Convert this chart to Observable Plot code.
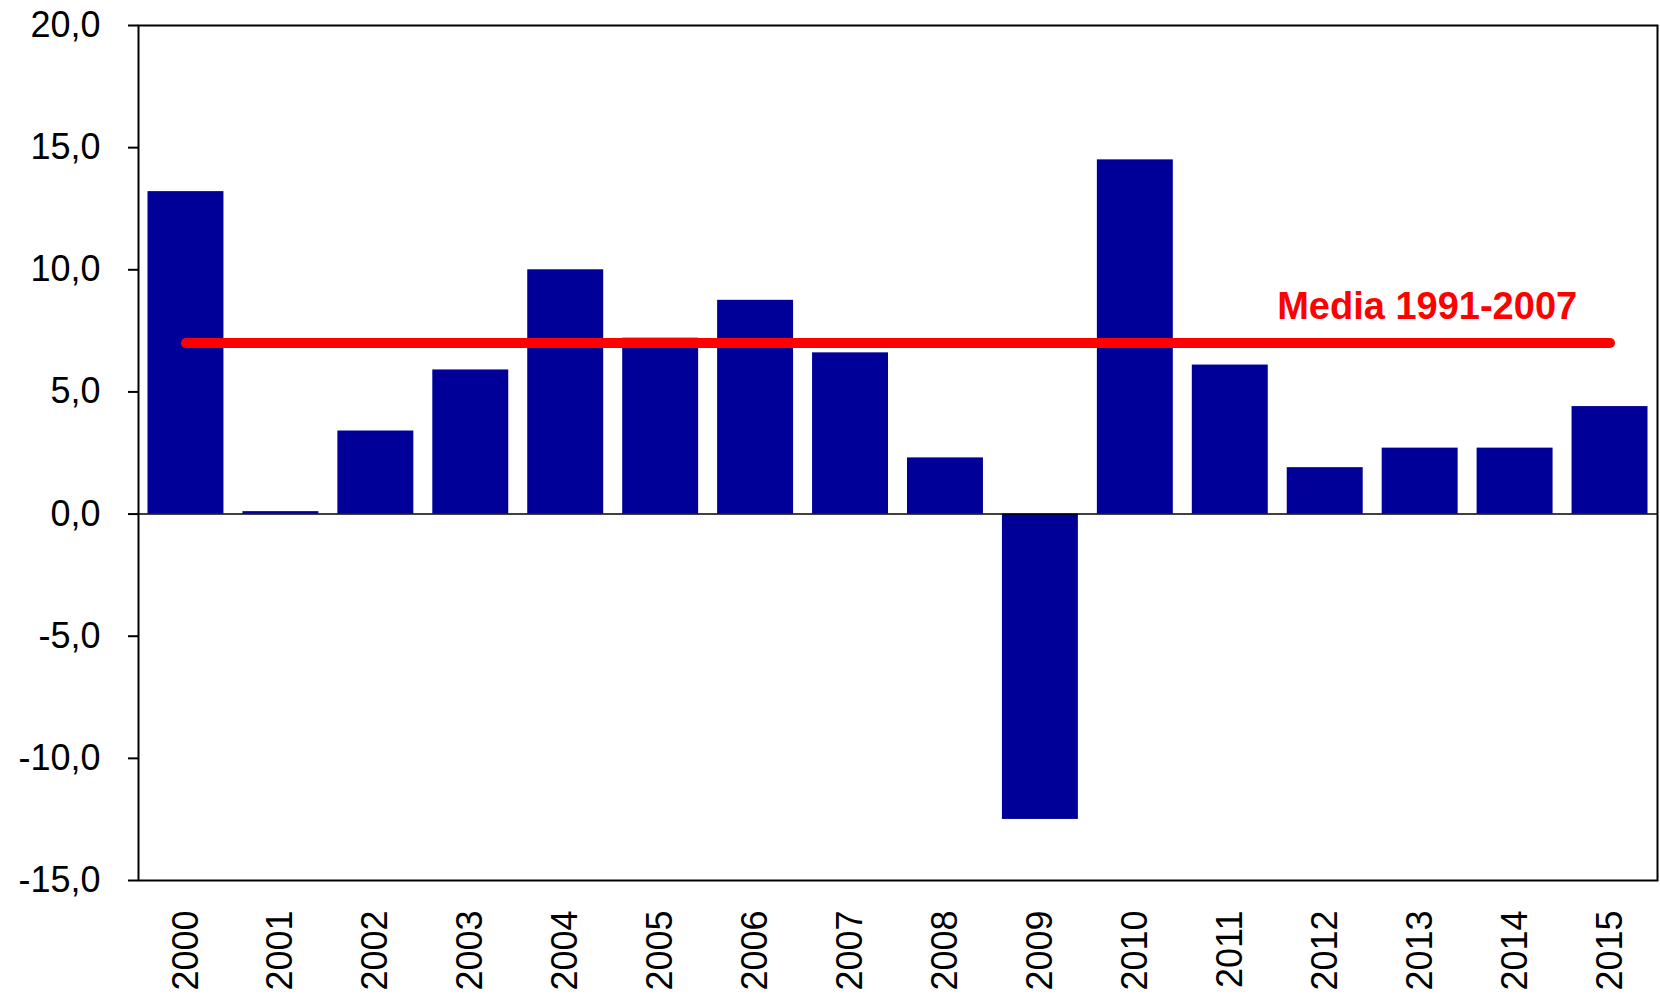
<!DOCTYPE html>
<html>
<head>
<meta charset="utf-8">
<script src="https://cdn.jsdelivr.net/npm/d3@7"></script>
<script src="https://cdn.jsdelivr.net/npm/@observablehq/plot@0.6"></script>
<style>
  html, body { margin: 0; padding: 0; background: #fff; }
  #chart svg { display: block; font-family: "Liberation Sans", Arial, sans-serif; }
</style>
</head>
<body>
<div id="chart"></div>
<script>
const years = ["2000","2001","2002","2003","2004","2005","2006","2007","2008","2009","2010","2011","2012","2013","2014","2015"];
const values = [13.2, 0.1, 3.4, 5.9, 10.0, 7.2, 8.75, 6.6, 2.3, -12.5, 14.5, 6.1, 1.9, 2.7, 2.7, 4.4];
const mediaValue = 7.0;
const mediaLabel = "Media 1991-2007";
const yTicks = [-15, -10, -5, 0, 5, 10, 15, 20];

const bars = years.map((y, i) => ({year: y, value: values[i]}));
const mediaLine = [
  {year: years[0], value: mediaValue},
  {year: years[years.length - 1], value: mediaValue}
];
const fmt = d => d.toFixed(1).replace(".", ",");

const chart = Plot.plot({
  width: 1660,
  height: 995,
  marginLeft: 138,
  marginRight: 3,
  marginTop: 25,
  marginBottom: 115,
  style: {fontFamily: "'Liberation Sans', Arial, sans-serif", fontSize: "36px", color: "#000", background: "#fff"},
  x: {domain: years, paddingInner: 0.2, paddingOuter: 0.1, round: false, label: null},
  y: {domain: [-15, 20], label: null},
  marks: [
    Plot.barY(bars, {x: "year", y: "value", fill: "#000099"}),
    Plot.ruleY([0], {stroke: "#000", strokeWidth: 1.5}),
    Plot.line(mediaLine, {x: "year", y: "value", stroke: "#ff0000", strokeWidth: 10, strokeLinecap: "round"}),
    Plot.text([mediaLabel], {x: () => years[13], y: () => mediaValue, text: d => d, fill: "#ff0000", fontWeight: "bold", fontSize: 38, textAnchor: "middle", lineAnchor: "bottom", dx: 7, dy: -24}),
    Plot.frame({stroke: "#000", strokeWidth: 2}),
    Plot.axisY({ticks: yTicks, tickFormat: fmt, tickSize: 10, tickPadding: 28, strokeWidth: 2, fontSize: 36, label: null}),
    Plot.axisX({tickSize: 0, tickPadding: 30, tickRotate: -90, fontSize: 36, label: null})
  ]
});
document.getElementById("chart").appendChild(chart);
</script>
</body>
</html>
